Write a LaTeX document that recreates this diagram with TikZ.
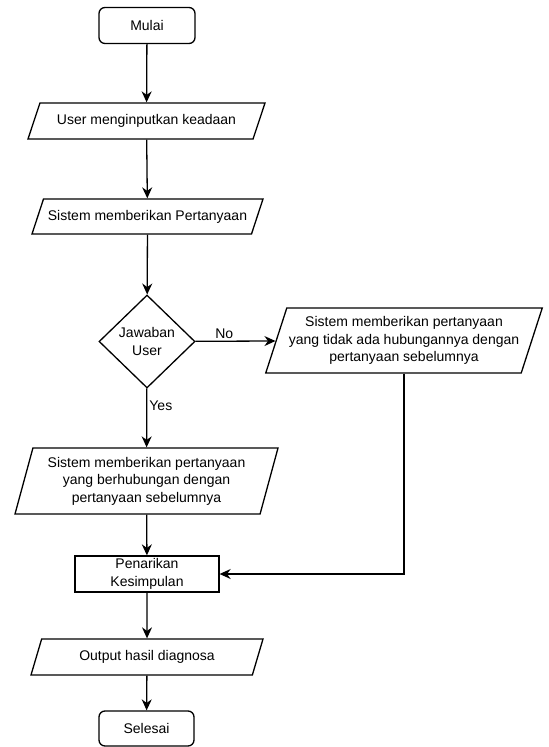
\documentclass[tikz,border=0pt]{standalone}
\usepackage{fontspec}
\setmainfont{Liberation Sans}
\usetikzlibrary{shapes.geometric,arrows.meta}
\tikzset{
  every node/.style={font=\fontsize{7}{8.75}\selectfont,align=center,inner sep=1pt},
  terminal/.style={draw,rounded corners=3pt,minimum width=48pt,minimum height=18pt},
  io/.style={draw,trapezium,trapezium stretches body,trapezium left angle=#1,trapezium right angle=180-#1},
  decision/.style={draw,diamond,inner sep=0pt,minimum width=48pt,minimum height=46.5pt},
  process/.style={draw,rectangle,minimum width=72pt,minimum height=18pt},
  flow/.style={-{Stealth[length=5.5pt,width=5pt]}}
}

\begin{document}
\begin{tikzpicture}[x=0.5pt,y=-0.5pt,line width=0.65pt]
\useasboundingbox (0,0) rectangle (549,747);

% create the nodes
\node[terminal] (mulai) at (147,25.5) {Mulai};
\node[io=55,minimum width=118.5pt,minimum height=18pt] (input) at (146.5,121) {User menginputkan keadaan};
\node[io=56,minimum width=115.5pt,minimum height=17.5pt] (tanya) at (147.5,216.5) {Sistem memberikan Pertanyaan};
\node[decision] (jawab) at (147,341.5) {Jawaban\\User};
\node[io=68,minimum width=138pt,minimum height=32.5pt] (tidak) at (404,340.5) {Sistem memberikan pertanyaan\\yang tidak ada hubungannya dengan\\pertanyaan sebelumnya};
\node[io=71,minimum width=131.5pt,minimum height=33pt] (berhub) at (146.5,481) {Sistem memberikan pertanyaan\\yang berhubungan dengan\\pertanyaan sebelumnya};
\node[process] (tarik) at (147,574) {Penarikan\\Kesimpulan};
\node[io=58,minimum width=116pt,minimum height=18pt] (output) at (147,657) {Output hasil diagnosa};
\node[terminal,minimum width=47.5pt,minimum height=17.5pt] (selesai) at (146.5,728.5) {Selesai};

% connectors
\draw[flow] (mulai) -- (input);
\draw[flow] (input) -- (tanya);
\draw[flow] (tanya) -- (jawab);
\draw[flow] (jawab) -- node[above,pos=0.36] {No} (tidak);
\draw[flow] (jawab) -- node[right,pos=0.3] {Yes} (berhub);
\draw[flow] (tidak.south) |- (tarik.east);
\draw[flow] (berhub) -- (tarik);
\draw[flow] (tarik) -- (output);
\draw[flow] (output) -- (selesai);

\end{tikzpicture}
\end{document}
